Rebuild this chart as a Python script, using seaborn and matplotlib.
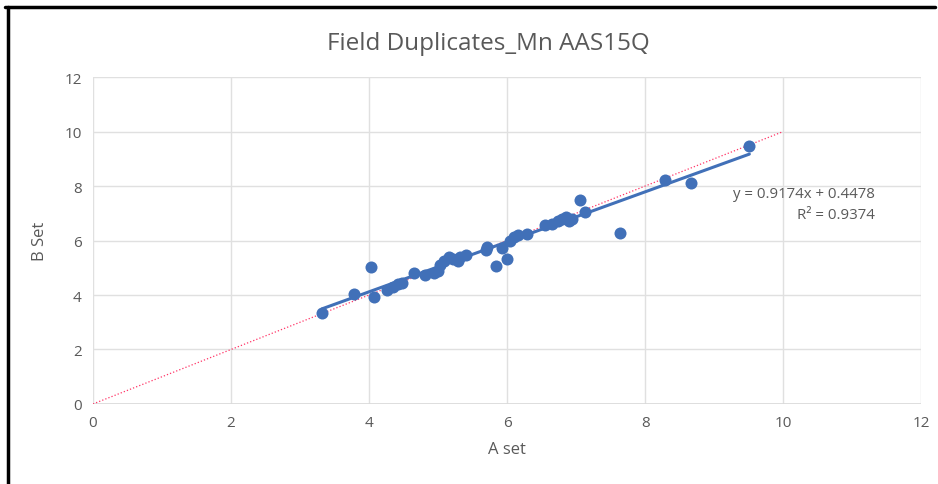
import numpy as np
import pandas as pd
import seaborn as sns
import matplotlib.pyplot as plt
from matplotlib.lines import Line2D

# duplicate pairs
a_set = [3.32, 3.78, 4.03, 4.07, 4.26, 4.35, 4.42, 4.48, 4.65, 4.81,
         4.94, 5.00, 5.03, 5.09, 5.16, 5.22, 5.29, 5.32, 5.41, 5.70,
         5.71, 5.84, 5.93, 6.00, 6.04, 6.10, 6.16, 6.29, 6.55, 6.65,
         6.74, 6.80, 6.86, 6.90, 6.94, 7.06, 7.13, 7.64, 8.29, 8.67, 9.51]
b_set = [3.34, 4.04, 5.03, 3.93, 4.18, 4.29, 4.40, 4.44, 4.81, 4.73,
         4.81, 4.88, 5.10, 5.25, 5.39, 5.32, 5.25, 5.39, 5.47, 5.65,
         5.76, 5.06, 5.72, 5.32, 5.98, 6.13, 6.20, 6.24, 6.57, 6.61,
         6.72, 6.79, 6.86, 6.72, 6.79, 7.49, 7.05, 6.28, 8.22, 8.11, 9.47]

slope = 0.9174
intercept = 0.4478
r2 = 0.9374
one_to_one = [0, 10]
ticks = [0, 2, 4, 6, 8, 10, 12]

df = pd.DataFrame({'A set': a_set, 'B Set': b_set})

sns.set_style('whitegrid')
plt.rcParams['font.family'] = ['Open Sans', 'DejaVu Sans']

fig = plt.figure(figsize=(9.38, 4.85), dpi=100)
ax = fig.add_axes([0.0991, 0.165, 0.883, 0.674])

blue = '#4170B8'
grey = '#595959'

# 1:1 reference line
ax.plot(one_to_one, one_to_one, color='#FF3366', lw=0.9, ls=':', zorder=2)

sns.scatterplot(data=df, x='A set', y='B Set', ax=ax, color=blue, s=75,
                edgecolor=blue, linewidth=0, zorder=3)

# linear trend line
xt = np.array([min(a_set), max(a_set)])
sns.lineplot(x=xt, y=slope * xt + intercept, ax=ax, color=blue, lw=2.2,
             zorder=4)

ax.set_xlim(0, 12)
ax.set_ylim(0, 12)
ax.set_xticks(ticks)
ax.set_yticks(ticks)
ax.grid(True, color='#E0E0E0', lw=1)
for s in ax.spines.values():
    s.set_visible(False)
ax.axhline(0, color='#D9D9D9', lw=1.2, zorder=1)
ax.tick_params(colors=grey, labelsize=11, length=0, pad=8)

ax.set_xlabel('A set', color=grey, fontsize=12, labelpad=8)
ax.set_ylabel('B Set', color=grey, fontsize=12, labelpad=12)
ax.set_title('Field Duplicates_Mn AAS15Q', color=grey, fontsize=17.5,
             pad=20, x=0.477)

ax.text(11.33, 7.74, f'y = {slope}x + {intercept}', ha='right', va='center',
        color=grey, fontsize=10.8)
ax.text(11.33, 6.94, f'R² = {r2}', ha='right', va='center',
        color=grey, fontsize=10.8)

# black frame on top and left edges
fig.add_artist(Line2D([0.0085, 0.0085], [0, 0.984], color='black', lw=2.5,
                      transform=fig.transFigure))
fig.add_artist(Line2D([0.005, 0.997], [0.984, 0.984], color='black', lw=2.5,
                      transform=fig.transFigure))

plt.savefig('out.png', dpi=100)
